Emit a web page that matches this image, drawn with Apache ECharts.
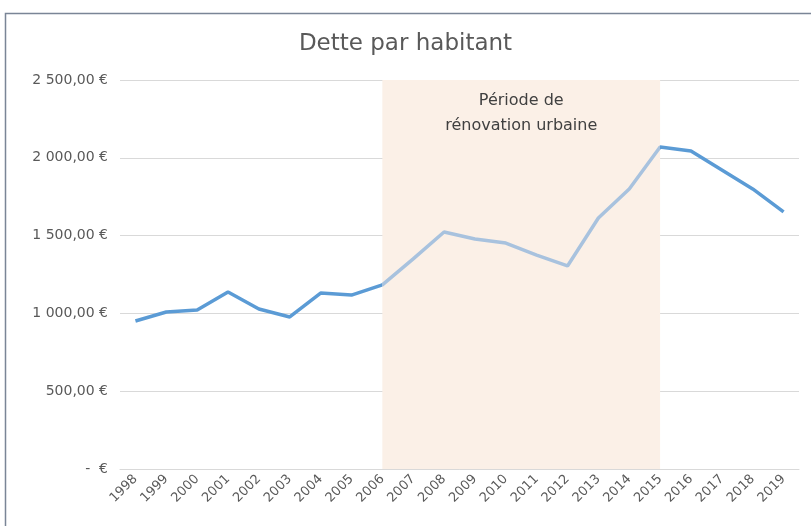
<!DOCTYPE html>
<html>
<head>
<meta charset="utf-8">
<script src="https://cdn.jsdelivr.net/npm/echarts@6/dist/echarts.min.js"></script>
<style>
  html, body { margin: 0; padding: 0; background: #fff; }
  #chart { width: 811px; height: 526px; }
</style>
</head>
<body>
<div id="chart"></div>
<script>
// années
const years = ['1998', '1999', '2000', '2001', '2002', '2003', '2004', '2005', '2006', '2007', '2008',
  '2009', '2010', '2011', '2012', '2013', '2014', '2015', '2016', '2017', '2018', '2019'];
// dette par habitant (€)
const dette = [951, 1009, 1022, 1138, 1028, 977, 1131, 1118, 1183, 1350, 1523,
  1478, 1452, 1375, 1305, 1613, 1800, 2069, 2044, 1922, 1800, 1652];
// période de rénovation urbaine
const periodeDebut = '2006';
const periodeFin = '2015';
const yTicks = [0, 500, 1000, 1500, 2000, 2500];

const font = '"DejaVu Sans", "Noto Sans", sans-serif';

// format "2 500,00 €" ; zéro affiché "-  €"
function euro(v) {
  if (v === 0) return '-  €';
  const s = String(Math.round(v)).replace(/\B(?=(\d{3})+(?!\d))/g, ' ');
  return s + ',00 €';
}

const chart = echarts.init(document.getElementById('chart'));

chart.setOption({
  animation: false,
  title: {
    text: 'Dette par habitant',
    left: 'center',
    top: 28,
    textStyle: { fontFamily: font, fontSize: 23, fontWeight: 'normal', color: '#595959' },
  },
  graphic: [
    {
      // cadre du graphique
      type: 'rect',
      shape: { x: 5.5, y: 13.5, width: 820, height: 530 },
      style: { fill: 'none', stroke: '#7A8596', lineWidth: 1.5 },
      silent: true,
    },
  ],
  grid: { left: 120, right: 12, top: 80, bottom: 57 },
  xAxis: {
    type: 'category',
    data: years,
    boundaryGap: true,
    axisLine: { lineStyle: { color: '#D9D9D9' } },
    axisTick: { show: false },
    axisLabel: { rotate: 45, color: '#595959', fontFamily: font, fontSize: 13, margin: 8, interval: 0 },
  },
  yAxis: {
    type: 'value',
    min: yTicks[0],
    max: yTicks[yTicks.length - 1],
    interval: 500,
    axisLine: { show: false },
    axisTick: { show: false },
    splitLine: { lineStyle: { color: '#D9D9D9' } },
    axisLabel: { color: '#595959', fontFamily: font, fontSize: 14, margin: 12, formatter: euro },
  },
  visualMap: {
    show: false,
    dimension: 0,
    seriesIndex: 0,
    pieces: [
      { lt: 8, color: '#5B9BD5' },
      { gte: 8, lte: 17, color: '#A8C2DE' },
      { gt: 17, color: '#5B9BD5' },
    ],
  },
  series: [
    {
      type: 'line',
      data: dette,
      showSymbol: false,
      lineStyle: { width: 3.5 },
      z: 3,
      markArea: {
        silent: true,
        itemStyle: { color: '#FBF0E7' },
        label: {
          show: true,
          position: 'insideTop',
          distance: 8,
          color: '#404040',
          fontFamily: font,
          fontSize: 16,
          lineHeight: 25,
          align: 'center',
        },
        data: [[
          { name: 'Période de\nrénovation urbaine', xAxis: periodeDebut },
          { xAxis: periodeFin },
        ]],
      },
    },
  ],
});
</script>
</body>
</html>
